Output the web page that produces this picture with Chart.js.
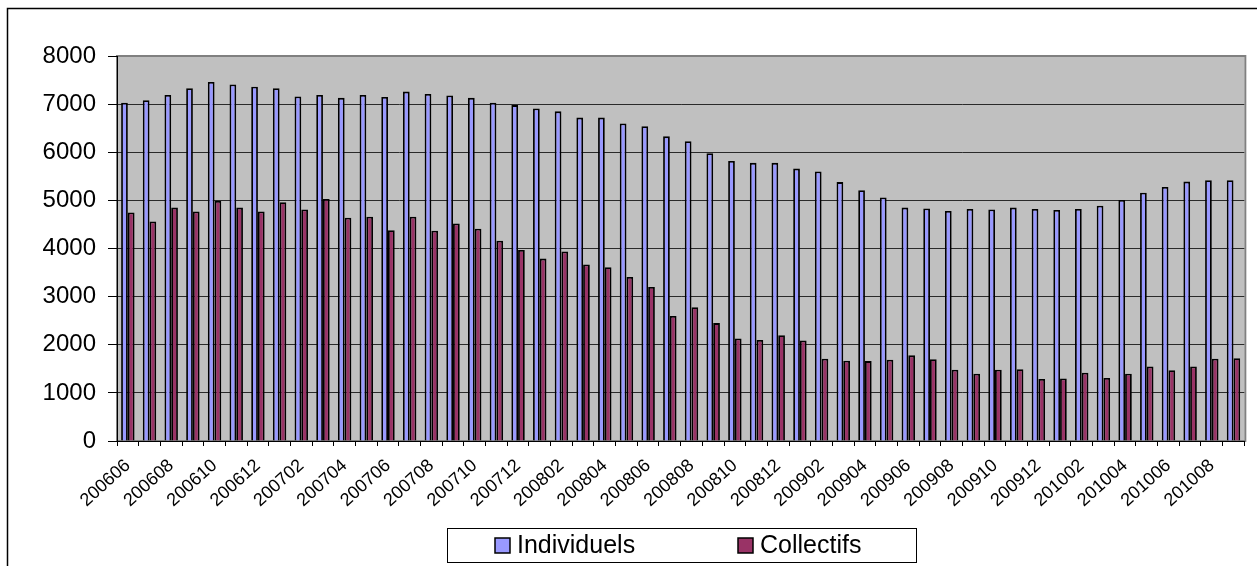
<!DOCTYPE html>
<html>
<head>
<meta charset="utf-8">
<script src="https://cdn.jsdelivr.net/npm/chart.js@4/dist/chart.umd.min.js"></script>
<style>
  html, body { margin: 0; padding: 0; background: #fff; }
  #wrap { width: 1257px; height: 566px; }
</style>
</head>
<body>
<div id="wrap"><canvas id="canvas" width="1257" height="566"></canvas></div>
<script>
// months, one bar pair each
var months = [
  '200606','200607','200608','200609','200610','200611','200612',
  '200701','200702','200703','200704','200705','200706','200707','200708','200709','200710','200711','200712',
  '200801','200802','200803','200804','200805','200806','200807','200808','200809','200810','200811','200812',
  '200901','200902','200903','200904','200905','200906','200907','200908','200909','200910','200911','200912',
  '201001','201002','201003','201004','201005','201006','201007','201008','201009'
];

var individuels = [
  7030, 7080, 7190, 7330, 7460, 7410, 7360,
  7330, 7160, 7190, 7130, 7190, 7150, 7260, 7210, 7180, 7130, 7030, 6980,
  6910, 6850, 6720, 6720, 6600, 6540, 6330, 6230, 5980, 5820, 5780, 5780,
  5660, 5600, 5380, 5210, 5060, 4850, 4830, 4780, 4820, 4810, 4850, 4820,
  4800, 4820, 4890, 5010, 5160, 5280, 5390, 5420, 5420
];

var collectifs = [
  4750, 4560, 4850, 4770, 4990, 4850, 4770,
  4960, 4810, 5030, 4640, 4660, 4380, 4660, 4370, 4520, 4410, 4160, 3970,
  3790, 3940, 3670, 3610, 3410, 3200, 2600, 2780, 2450, 2130, 2100, 2200,
  2090, 1710, 1670, 1660, 1690, 1780, 1700, 1480, 1400, 1480, 1490, 1290,
  1300, 1420, 1310, 1400, 1550, 1470, 1550, 1710, 1720
];

var yTicks = [0, 1000, 2000, 3000, 4000, 5000, 6000, 7000, 8000];

var FONT = '"Liberation Sans", Arial, sans-serif';

// grey plot area and outer frame, drawn before the axes
var plotBackground = {
  id: 'plotBackground',
  beforeDraw: function(chart) {
    var ctx = chart.ctx;
    var a = chart.chartArea;
    ctx.save();
    ctx.fillStyle = '#fff';
    ctx.fillRect(0, 0, chart.width, chart.height);
    // frame of the whole chart (runs off right and bottom)
    ctx.strokeStyle = '#000';
    ctx.lineWidth = 1.5;
    ctx.strokeRect(7.5, 8.5, chart.width + 20, chart.height + 20);
    ctx.fillStyle = '#C0C0C0';
    ctx.fillRect(a.left, a.top, a.right - a.left, a.bottom - a.top);
    ctx.strokeStyle = '#808080';
    ctx.lineWidth = 2;
    ctx.strokeRect(a.left, a.top, a.right - a.left + 1, a.bottom - a.top);
    ctx.restore();
  }
};

// legend in a box under the chart
var boxedLegend = {
  id: 'boxedLegend',
  afterDraw: function(chart) {
    var ctx = chart.ctx;
    var items = [{x: 495}, {x: 738}];
    ctx.save();
    ctx.fillStyle = '#fff';
    ctx.fillRect(447.5, 528.5, 469, 34);
    ctx.strokeStyle = '#000';
    ctx.lineWidth = 1;
    ctx.strokeRect(447.5, 528.5, 469, 34);
    ctx.font = '25px ' + FONT;
    ctx.textBaseline = 'middle';
    chart.data.datasets.forEach(function(ds, i) {
      var x = items[i].x;
      ctx.fillStyle = ds.backgroundColor;
      ctx.fillRect(x, 538, 15, 15);
      ctx.lineWidth = 1.5;
      ctx.strokeStyle = '#000';
      ctx.strokeRect(x, 538, 15, 15);
      ctx.fillStyle = '#000';
      ctx.fillText(ds.label, x + 22, 546);
    });
    ctx.restore();
  }
};

var ctx = document.getElementById('canvas');
var chart = new Chart(ctx, {
  type: 'bar',
  data: {
    labels: months,
    datasets: [
      {
        label: 'Individuels',
        data: individuels,
        backgroundColor: '#9999FF',
        borderColor: '#000',
        borderWidth: 1.8,
        borderSkipped: 'start',
        categoryPercentage: 0.62,
        barPercentage: 1.0
      },
      {
        label: 'Collectifs',
        data: collectifs,
        backgroundColor: '#993366',
        borderColor: '#000',
        borderWidth: 1.8,
        borderSkipped: 'start',
        categoryPercentage: 0.62,
        barPercentage: 1.0
      }
    ]
  },
  options: {
    responsive: false,
    animation: false,
    devicePixelRatio: 1,
    layout: { padding: { top: 56, right: 6, left: 0, bottom: 0 } },
    plugins: {
      legend: { display: false },
      title: { display: false },
      tooltip: { enabled: false }
    },
    scales: {
      x: {
        offset: true,
        grid: {
          display: true,
          offset: true,
          drawOnChartArea: false,
          drawTicks: true,
          tickLength: 5,
          tickColor: '#000'
        },
        border: { display: true, color: '#000', width: 1 },
        ticks: {
          autoSkip: false,
          maxRotation: 42,
          minRotation: 42,
          padding: 9,
          color: '#000',
          font: { family: FONT, size: 18 },
          callback: function(value, index) {
            return index % 2 === 0 ? months[index] : '';
          }
        },
        afterFit: function(scale) { scale.height = 125; }
      },
      y: {
        min: 0,
        max: 8000,
        afterBuildTicks: function(scale) {
          scale.ticks = yTicks.map(function(v) { return {value: v}; });
        },
        grid: {
          color: function(c) { return c.tick && c.tick.value === 8000 ? '#808080' : '#2a2a2a'; },
          lineWidth: 1,
          tickLength: 9,
          tickColor: '#000'
        },
        border: { display: true, color: '#000', width: 1 },
        ticks: {
          padding: 12,
          color: '#000',
          font: { family: FONT, size: 24 },
          callback: function(value) { return String(value); }
        },
        afterFit: function(scale) { scale.width = 117; }
      }
    }
  },
  plugins: [plotBackground, boxedLegend]
});
</script>
</body>
</html>
